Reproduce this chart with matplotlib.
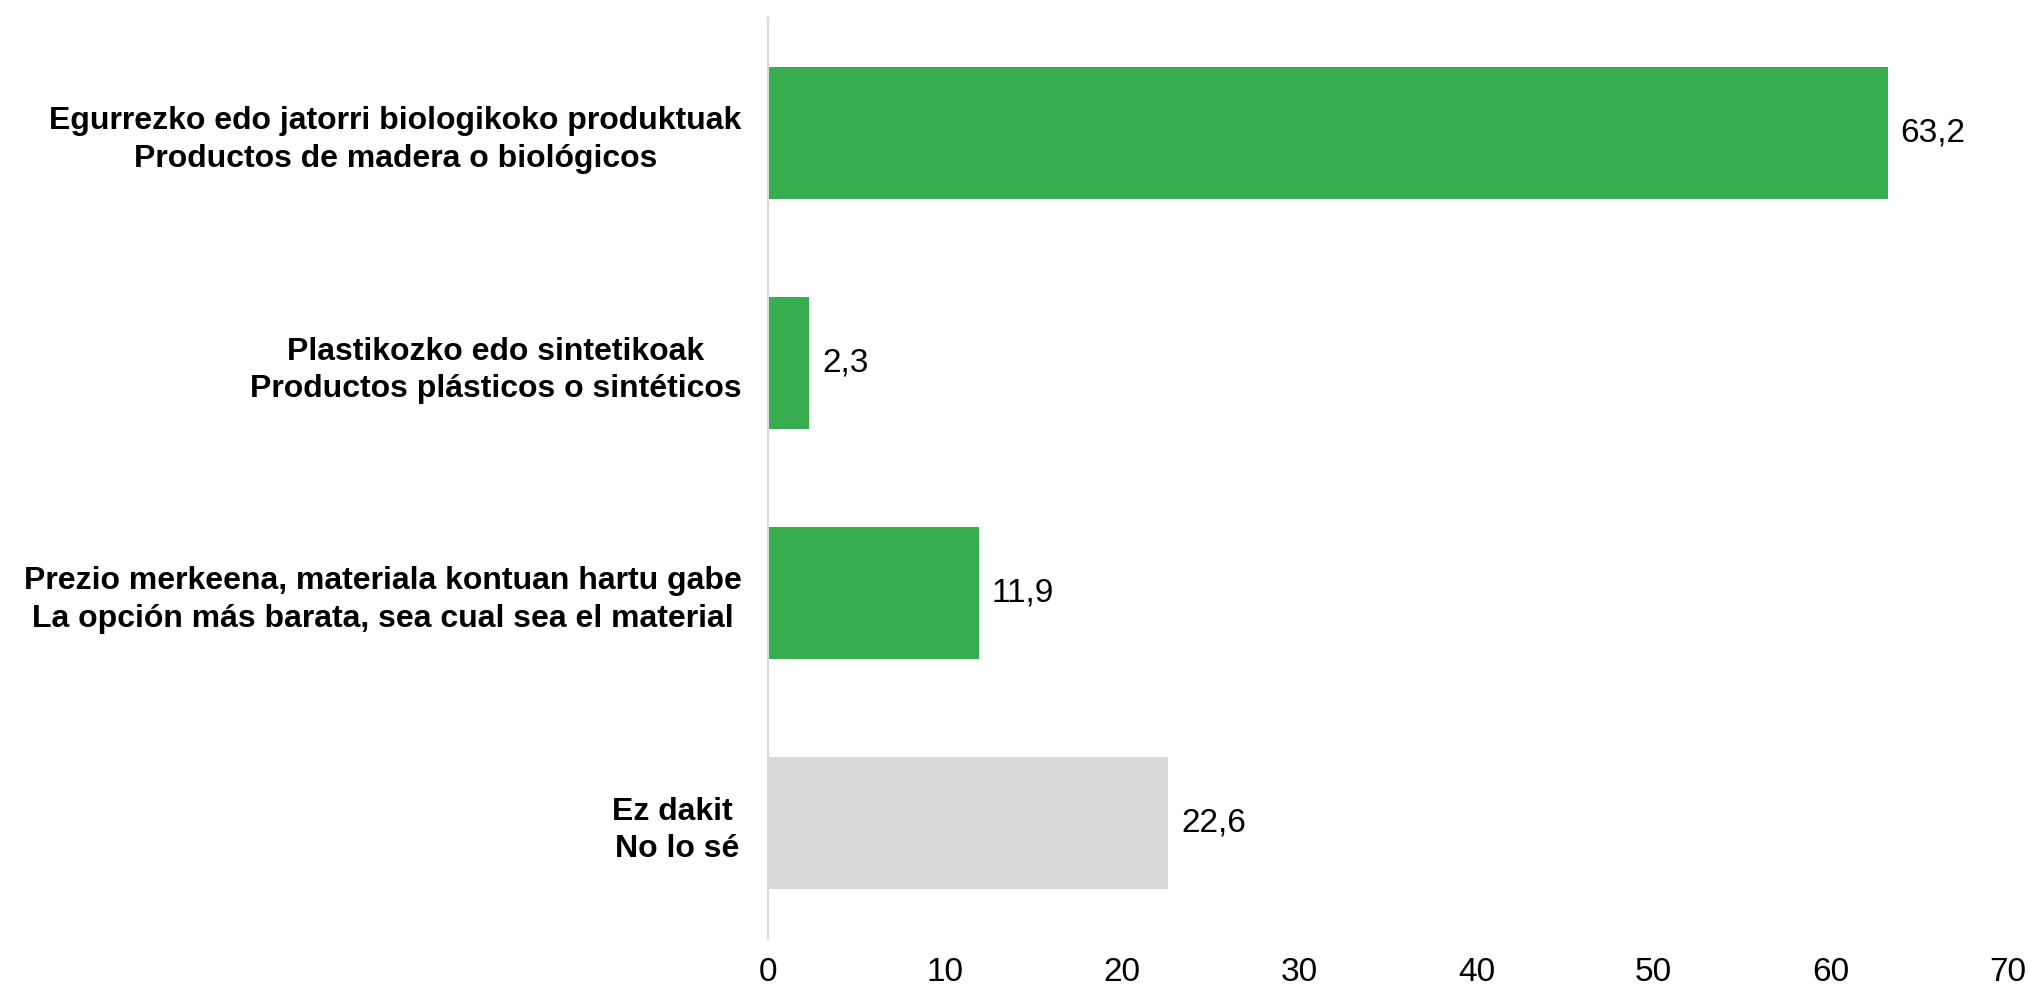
import matplotlib
matplotlib.use("Agg")
import matplotlib.pyplot as plt

# data
categories = [
    "Egurrezko edo jatorri biologikoko produktuak\nProductos de madera o biológicos",
    "Plastikozko edo sintetikoak\nProductos plásticos o sintéticos",
    "Prezio merkeena, materiala kontuan hartu gabe\nLa opción más barata, sea cual sea el material",
    "Ez dakit \nNo lo sé",
]
values = [63.2, 2.3, 11.9, 22.6]
bar_colors = ["#37AD4F", "#37AD4F", "#37AD4F", "#D9D9D9"]
x_ticks = [0, 10, 20, 30, 40, 50, 60, 70]

plt.rcParams["font.family"] = ["Liberation Sans", "DejaVu Sans"]

fig = plt.figure(figsize=(20.28, 9.9), dpi=100)
ax = fig.add_axes([768 / 2028, 52 / 990, 1240 / 2028, 920 / 990])

ypos = list(range(len(categories)))
ax.barh(ypos, values, height=0.573, color=bar_colors)

# value labels, decimal comma
for y, v in zip(ypos, values):
    ax.annotate(f"{v:.1f}".replace(".", ","), xy=(v, y), xytext=(9.5, 0),
                textcoords="offset points", va="center", ha="left",
                fontsize=24)

ax.set_xlim(0, 70)
ax.set_ylim(3.5, -0.5)
ax.set_xticks(x_ticks)
ax.set_xticklabels([str(t) for t in x_ticks], fontsize=24)
ax.set_yticks(ypos)
ax.set_yticklabels(categories, fontsize=23, fontweight="bold",
                   multialignment="center", linespacing=1.32)

ax.tick_params(axis="both", length=0)
ax.tick_params(axis="x", pad=14)
ax.tick_params(axis="y", pad=19)

for side in ["top", "right", "bottom"]:
    ax.spines[side].set_visible(False)
ax.spines["left"].set_color("#D9D9D9")
ax.spines["left"].set_linewidth(1.5)

fig.savefig("out.png", dpi=100, facecolor="white")
